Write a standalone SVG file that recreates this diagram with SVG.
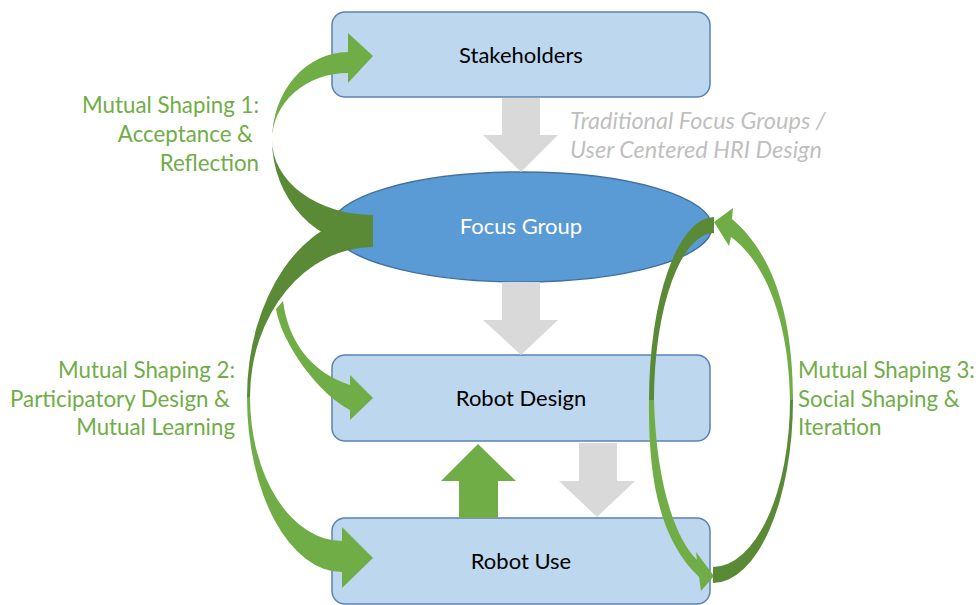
<svg xmlns="http://www.w3.org/2000/svg" width="979" height="605" viewBox="0 0 979 605">
<style>
.box{fill:#BDD7EE;stroke:#5A82B4;stroke-width:1.5}
.ell{fill:#5B9BD5;stroke:#41719C;stroke-width:1.5}
.nt{font-family:Lato,"Open Sans",sans-serif;font-size:22px;fill:#000;text-anchor:middle}
.lt{fill:#70AD47}
.dk{fill:#5B8A37}
.gr{fill:#D9D9D9}
.gl{font-family:Lato,"Open Sans",sans-serif;font-size:22.3px;fill:#70AD47}
.gi{font-family:Lato,"Open Sans",sans-serif;font-size:23.5px;font-style:italic;fill:#BFBFBF}
</style>
<g id="stakeholders"><rect class="box" x="332" y="12" width="378" height="85" rx="13"/><text class="nt" x="521" y="63">Stakeholders</text></g>
<g id="focus-group"><ellipse class="ell" cx="521.5" cy="227" rx="190.5" ry="55"/><text class="nt" x="521" y="234" style="fill:#fff">Focus Group</text></g>
<g id="robot-design"><rect class="box" x="332" y="355" width="378" height="86" rx="13"/><text class="nt" x="521" y="406">Robot Design</text></g>
<g id="robot-use"><rect class="box" x="332" y="518" width="378" height="86" rx="13"/><text class="nt" x="521" y="569">Robot Use</text></g>
<g id="connectors">
<polygon class="gr" points="502,98 540,98 540,135 558,135 521,172 483,135 502,135"/>
<polygon class="gr" points="502,282 540,282 540,320 558,320 521,355 483,320 502,320"/>
<polygon class="gr" points="579,443 617,443 617,481 635,481 597,517 559,481 579,481"/>
<polygon class="lt" points="459,518 498,518 498,481 516,481 478,444 441,481 459,481"/>
<path class="lt" d="M272,140 A76,88 0 0 1 348,52 L348,33 L373,56 L348,83 L348,73 A76,67 0 0 0 272,140 Z"/>
<path class="dk" d="M373,215 L373,247 A101,107 0 0 1 272,140 A101,75 0 0 0 373,215 Z"/>
<path class="lt" d="M283,301 C288,340 310,372 350,385 L350,375 L373,398 L350,420 L350,410 C320,395 282,345 276,309 Z"/>
<path class="lt" d="M247,397 A95,175 0 0 0 342,572 L342,588 L373,558 L342,527 L342,541 A92,144 0 0 1 250,397 Z"/>
<path class="dk" d="M373,215 A126,182 0 0 0 247,397 L250,397 A123,150 0 0 1 373,247 Z"/>
<path class="dk" d="M714,217 A65,183 0 0 0 649,400 L654,400 A60,167 0 0 1 714,233 Z"/>
<path class="lt" d="M649,400 C648,480 660,540 699,577 L701,591 L714,576 L696,552 L697,560 C672,535 656,475 654,400 Z"/>
<path class="dk" d="M713,583 A80,183 0 0 0 793,400 L790,400 A77,167 0 0 1 713,567 Z"/>
<path class="lt" d="M793,400 C793,320 775,255 732,219 L733,208 L714,222 L729,246 L731,237 C765,262 789,320 790,400 Z"/>
</g>
<g id="labels">
<text class="gl" text-anchor="end"><tspan x="259" y="113">Mutual Shaping 1:</tspan><tspan x="253" y="142">Acceptance &amp;</tspan><tspan x="259" y="171">Reflection</tspan></text>
<text class="gl" text-anchor="end"><tspan x="235" y="378">Mutual Shaping 2:</tspan><tspan x="230" y="407">Participatory Design &amp;</tspan><tspan x="235" y="435">Mutual Learning</tspan></text>
<text class="gl"><tspan x="798" y="378">Mutual Shaping 3:</tspan><tspan x="798" y="407">Social Shaping &amp;</tspan><tspan x="798" y="435">Iteration</tspan></text>
<text class="gi"><tspan x="570" y="129">Traditional Focus Groups /</tspan><tspan x="570" y="158">User Centered HRI Design</tspan></text>
</g>
</svg>
